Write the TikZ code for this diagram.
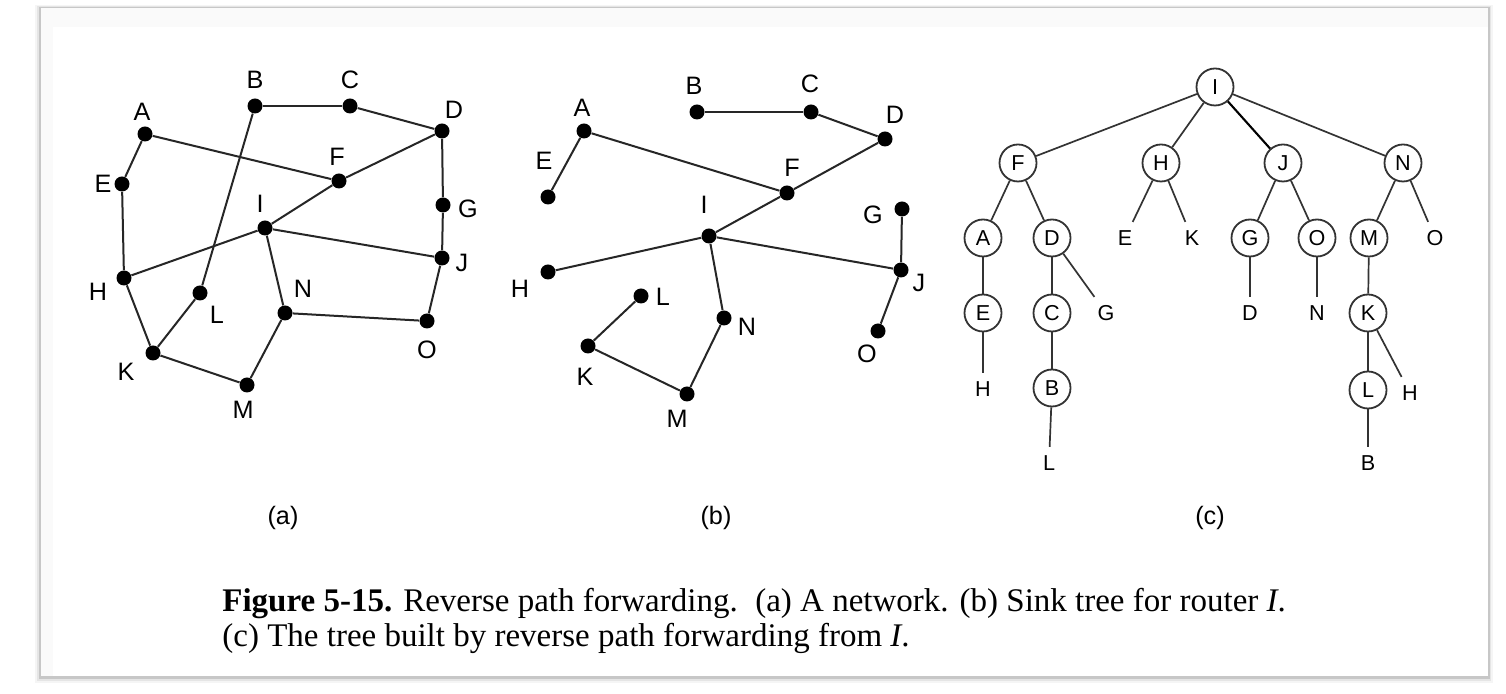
\documentclass[tikz,border=0pt]{standalone}
\usepackage{fontspec}
\setmainfont{Liberation Serif}
\newfontfamily\helv{Liberation Sans}
\begin{document}
\begin{tikzpicture}[x=0.5pt,y=-0.5pt,
  dot/.style={circle,fill=black,inner sep=0pt,minimum size=7.5pt},
  lab/.style={font=\helv\fontsize{12.6}{14}\selectfont,inner sep=0pt,text height=9pt,text depth=0pt},
  edge/.style={line width=1pt,draw=black!85},
  cnode/.style={circle,draw=black!80,line width=0.9pt,minimum size=18.5pt,inner sep=0pt,
     font=\helv\fontsize{10.8}{12}\selectfont,text height=7.7pt,text depth=0pt},
  leaf/.style={inner sep=4pt,font=\helv\fontsize{10.8}{12}\selectfont,text height=7.7pt,text depth=0pt},
  tedge/.style={line width=0.85pt,draw=black!80},
  sub/.style={font=\helv\fontsize{12.6}{14}\selectfont,inner sep=0pt},
  captxt/.style={anchor=base west,inner sep=0pt,font=\fontsize{16.5}{17.5}\selectfont}
]
\useasboundingbox (0,0) rectangle (1506,694);
% frame
\fill[white] (0,0) rectangle (1506,694);
\fill[black!4] (35,5) rectangle (1493,683);
\fill[black!10] (37,6) rectangle (1491,681);
\fill[black!22] (39,7) rectangle (1489.5,679);
\fill[black!2] (41,8) rectangle (1487.5,676);
\fill[white] (53,27) rectangle (1487.5,676);

% ---------------- panel (a)
\node[dot] (aA) at (145,134) {};
\node[dot] (aB) at (255,106) {};
\node[dot] (aC) at (350,106) {};
\node[dot] (aD) at (442,131) {};
\node[dot] (aE) at (122,184) {};
\node[dot] (aF) at (339,181) {};
\node[dot] (aG) at (443,205) {};
\node[dot] (aH) at (124,278) {};
\node[dot] (aI) at (265,228) {};
\node[dot] (aJ) at (442,258) {};
\node[dot] (aK) at (153,353) {};
\node[dot] (aL) at (200,293) {};
\node[dot] (aM) at (247,385) {};
\node[dot] (aN) at (285,313) {};
\node[dot] (aO) at (427,321) {};
\node[lab] (laA) at (142,112) {A};
\node[lab] (laB) at (255,80) {B};
\node[lab] (laC) at (350,80) {C};
\node[lab] (laD) at (454,110) {D};
\node[lab] (laE) at (103,184) {E};
\node[lab] (laF) at (337,157) {F};
\node[lab] (laG) at (468,209) {G};
\node[lab] (laH) at (98,292) {H};
\node[lab] (laI) at (260,204) {I};
\node[lab] (laJ) at (462,263) {J};
\node[lab] (laK) at (126,372) {K};
\node[lab] (laL) at (217,315) {L};
\node[lab] (laM) at (243,410) {M};
\node[lab] (laN) at (303,289) {N};
\node[lab] (laO) at (427,350) {O};
\draw[edge] (aB)--(aC); \draw[edge] (aC)--(aD);
\draw[edge] (aA)--(aF); \draw[edge] (aF)--(aD);
\draw[edge] (aB)--(aL); \draw[edge] (aA)--(aE);
\draw[edge] (aE)--(aH); \draw[edge] (aH)--(aI);
\draw[edge] (aI)--(aF); \draw[edge] (aI)--(aJ);
\draw[edge] (aD)--(aG); \draw[edge] (aG)--(aJ);
\draw[edge] (aJ)--(aO); \draw[edge] (aI)--(aN);
\draw[edge] (aN)--(aO); \draw[edge] (aH)--(aK);
\draw[edge] (aK)--(aL); \draw[edge] (aK)--(aM);
\draw[edge] (aM)--(aN);

% ---------------- panel (b)
\node[dot] (bA) at (584,131) {};
\node[dot] (bB) at (697,112) {};
\node[dot] (bC) at (811,112) {};
\node[dot] (bD) at (885,139) {};
\node[dot] (bE) at (548,197) {};
\node[dot] (bF) at (787,193) {};
\node[dot] (bG) at (902,209) {};
\node[dot] (bH) at (548,272) {};
\node[dot] (bI) at (709,236) {};
\node[dot] (bJ) at (901,270) {};
\node[dot] (bK) at (588,346) {};
\node[dot] (bL) at (641,296) {};
\node[dot] (bM) at (687,394) {};
\node[dot] (bN) at (724,318) {};
\node[dot] (bO) at (878,331) {};
\node[lab] (lbA) at (582,108) {A};
\node[lab] (lbB) at (694,86) {B};
\node[lab] (lbC) at (810,84) {C};
\node[lab] (lbD) at (895,115) {D};
\node[lab] (lbE) at (544,161) {E};
\node[lab] (lbF) at (792,168) {F};
\node[lab] (lbG) at (873,215) {G};
\node[lab] (lbH) at (520,289) {H};
\node[lab] (lbI) at (704,205) {I};
\node[lab] (lbJ) at (919,283) {J};
\node[lab] (lbK) at (585,377) {K};
\node[lab] (lbL) at (663,297) {L};
\node[lab] (lbM) at (677,419) {M};
\node[lab] (lbN) at (747,327) {N};
\node[lab] (lbO) at (867,354) {O};
\draw[edge] (bB)--(bC); \draw[edge] (bC)--(bD);
\draw[edge] (bD)--(bF); \draw[edge] (bA)--(bF);
\draw[edge] (bA)--(bE); \draw[edge] (bF)--(bI);
\draw[edge] (bI)--(bH); \draw[edge] (bI)--(bJ);
\draw[edge] (bG)--(bJ); \draw[edge] (bJ)--(bO);
\draw[edge] (bI)--(bN); \draw[edge] (bN)--(bM);
\draw[edge] (bM)--(bK); \draw[edge] (bK)--(bL);

% ---------------- panel (c)
\node[cnode] (cI) at (1215,87) {I};
\node[cnode] (cF) at (1018,163) {F};
\node[cnode] (cH) at (1161,163) {H};
\node[cnode] (cJ) at (1283,163) {J};
\node[cnode] (cN) at (1403,163) {N};
\node[cnode] (cA) at (983,238) {A};
\node[cnode] (cD) at (1052,238) {D};
\node[leaf]  (tE1) at (1125,238) {E};
\node[leaf]  (tK1) at (1192,238) {K};
\node[cnode] (cG) at (1250,238) {G};
\node[cnode] (cO) at (1317,238) {O};
\node[cnode] (cM) at (1369,238) {M};
\node[leaf]  (tO1) at (1435,238) {O};
\node[cnode] (cE) at (983,313) {E};
\node[cnode] (cC) at (1052,313) {C};
\node[leaf]  (tG1) at (1106,313) {G};
\node[leaf]  (tD1) at (1250,313) {D};
\node[leaf]  (tN1) at (1317,313) {N};
\node[cnode] (cK) at (1368,313) {K};
\node[leaf]  (tH1) at (983,389) {H};
\node[cnode] (cB) at (1052,388) {B};
\node[cnode] (cL) at (1368,390) {L};
\node[leaf]  (tH2) at (1410,393) {H};
\node[leaf]  (tL1) at (1049,463) {L};
\node[leaf]  (tB1) at (1368,463) {B};
\draw[tedge] (cI)--(cF); \draw[tedge] (cI)--(cH);
\draw[tedge,line width=1.05pt,draw=black] (cI)--(cJ); \draw[tedge] (cI)--(cN);
\draw[tedge] (cF)--(cA); \draw[tedge] (cF)--(cD);
\draw[tedge] (cH)--(tE1); \draw[tedge] (cH)--(tK1);
\draw[tedge] (cJ)--(cG); \draw[tedge] (cJ)--(cO);
\draw[tedge] (cN)--(cM); \draw[tedge] (cN)--(tO1);
\draw[tedge] (cA)--(cE); \draw[tedge] (cD)--(cC);
\draw[tedge] (cD)--(tG1); \draw[tedge] (cG)--(tD1);
\draw[tedge] (cO)--(tN1); \draw[tedge] (cM)--(cK);
\draw[tedge] (cE)--(tH1); \draw[tedge] (cC)--(cB);
\draw[tedge] (cK)--(cL); \draw[tedge] (cK)--(tH2);
\draw[tedge] (cB)--(tL1); \draw[tedge] (cL)--(tB1);

% ---------------- sub labels and caption
\node[sub] (sa) at (283,518) {(a)};
\node[sub] (sb) at (716,518) {(b)};
\node[sub] (sc) at (1210,518) {(c)};
\node[captxt] (cap1) at (222,612) {\textbf{Figure 5-15.} Reverse path forwarding.\hspace{0.2em} (a) A network. (b) Sink tree for router \textit{I}.};
\node[captxt] (cap2) at (222,647) {(c) The tree built by reverse path forwarding from \textit{I}.};
\end{tikzpicture}
\end{document}
